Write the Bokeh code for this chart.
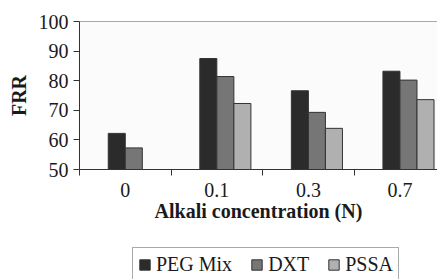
from bokeh.plotting import figure
from bokeh.layouts import column
from bokeh.models import FixedTicker, Legend, LegendItem, Range1d, ColumnDataSource, Span
from bokeh.embed import file_html
from bokeh.resources import INLINE

categories = ["0", "0.1", "0.3", "0.7"]
peg_mix = [62.2, 87.5, 76.6, 83.2]
dxt = [57.3, 81.4, 69.3, 80.2]
pssa = [float("nan"), 72.3, 63.9, 73.6]
y_ticks = [50, 60, 70, 80, 90, 100]

FONT = "Liberation Serif"
TXT = "#1a1a1a"
idx = list(range(len(categories)))
bw = 0.186

p = figure(width=437, height=228, output_backend="svg", toolbar_location=None,
           x_range=Range1d(-0.5, 3.41), y_range=Range1d(50, 100),
           min_border_left=79, min_border_right=0, min_border_top=21, min_border_bottom=59)
p.background_fill_color = "#fbfbfb"
p.border_fill_color = "white"
p.outline_line_color = None
p.xgrid.visible = False
p.ygrid.visible = False

series = [("PEG Mix", peg_mix, "#2b2b2b", -0.5), ("DXT", dxt, "#767676", 0.5), ("PSSA", pssa, "#b0b0b0", 1.5)]
sources = []
for name, vals, col, off in series:
    src = ColumnDataSource(dict(x=[i + off * bw for i in idx], top=vals))
    sources.append(src)
    p.vbar(x="x", top="top", bottom=50, width=bw, source=src,
           fill_color=col, line_color="#333333", line_width=1)

p.add_layout(Span(location=100, dimension="width", line_color="#555555", line_width=1))

xa = p.xaxis[0]
xa.ticker = FixedTicker(ticks=idx, minor_ticks=[i - 0.5 for i in idx])
xa.major_label_overrides = {i: c for i, c in zip(idx, categories)}
xa.major_tick_line_color = None
xa.minor_tick_out = 6
xa.minor_tick_in = 0
xa.minor_tick_line_color = "#333333"
xa.axis_line_color = "#333333"
xa.major_label_text_font = FONT
xa.major_label_text_font_size = "20px"
xa.major_label_text_color = TXT
xa.major_label_standoff = 7
xa.axis_label = "Alkali concentration (N)"
xa.axis_label_text_font = FONT
xa.axis_label_text_font_size = "20px"
xa.axis_label_text_font_style = "bold"
xa.axis_label_text_color = TXT
xa.axis_label_standoff = 0

ya = p.yaxis[0]
ya.ticker = FixedTicker(ticks=y_ticks, minor_ticks=[])
ya.major_tick_out = 6
ya.major_tick_in = 0
ya.major_tick_line_color = "#333333"
ya.axis_line_color = "#333333"
ya.major_label_text_font = FONT
ya.major_label_text_font_size = "20px"
ya.major_label_text_color = TXT
ya.major_label_standoff = 5
ya.axis_label = "FRR"
ya.axis_label_text_font = FONT
ya.axis_label_text_font_size = "20px"
ya.axis_label_text_font_style = "bold"
ya.axis_label_text_color = TXT
ya.axis_label_standoff = 6

# legend strip (its frame is aligned with the main plot's frame); bars lie outside its y range
lf = figure(width=437, height=60, output_backend="svg", toolbar_location=None,
            x_range=Range1d(-0.5, 3.41), y_range=Range1d(200, 201),
            x_axis_location=None, y_axis_location=None,
            min_border_left=79, min_border_right=0, min_border_top=0, min_border_bottom=0)
lf.outline_line_color = None
lf.xgrid.visible = False
lf.ygrid.visible = False
lf.background_fill_color = "white"
lf.border_fill_color = "white"
items = []
for (name, vals, col, off), src in zip(series, sources):
    r = lf.vbar(x="x", top="top", bottom=50, width=bw, source=src,
                fill_color=col, line_color="#333333", line_width=1)
    items.append(LegendItem(label=name, renderers=[r]))

legend = Legend(items=items, orientation="horizontal", location=(53, 6))
legend.label_text_font = FONT
legend.label_text_font_size = "20px"
legend.label_text_color = TXT
legend.glyph_width = 13
legend.glyph_height = 13
legend.label_standoff = 5
legend.label_height = 18
legend.spacing = 18
legend.padding = 5
legend.margin = 0
legend.border_line_color = "#555555"
legend.border_line_width = 1
legend.background_fill_color = "white"
lf.add_layout(legend, "center")

layout = column(p, lf, spacing=0)
open("out.html", "w").write(file_html(layout, INLINE))
